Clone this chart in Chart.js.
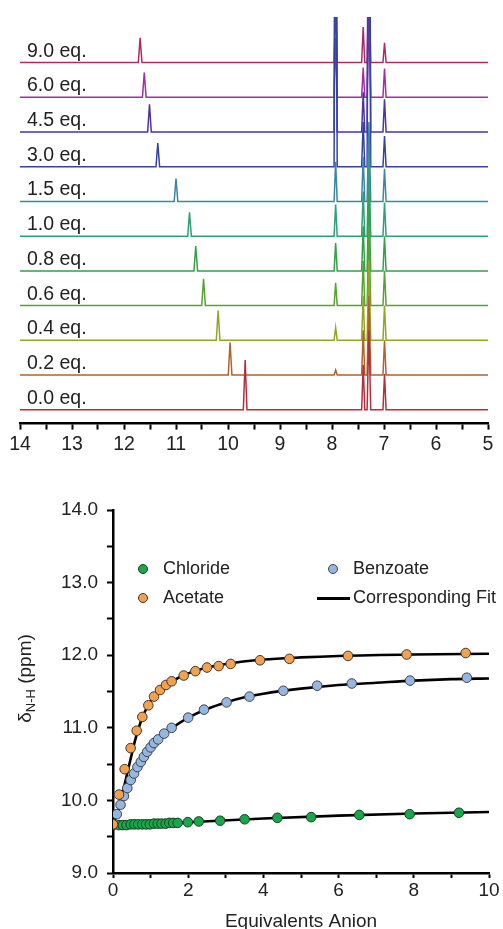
<!DOCTYPE html>
<html>
<head>
<meta charset="utf-8">
<script src="https://cdn.jsdelivr.net/npm/chart.js@4.4.1/dist/chart.umd.min.js"></script>
<style>
    body { margin: 0; background: #fff; }
    #page { position: relative; width: 503px; height: 929px; }
    #spectraBox { position: absolute; left: 0; top: 0; width: 503px; height: 465px; }
    #titrationBox { position: absolute; left: 0; top: 465px; width: 503px; height: 464px; }
    .legend-item { position: absolute; font: 18px 'Liberation Sans', Arial, sans-serif; color: #222; white-space: nowrap; }
    .legend-dot { position: absolute; width: 8px; height: 8px; border-radius: 50%; border: 1px solid #444; }
    .legend-line { position: absolute; width: 33px; height: 3px; background: #000; }
</style>
</head>
<body>
<div id="page">
    <div id="spectraBox"><canvas id="spectraChart"></canvas></div>
    <div id="titrationBox"><canvas id="titrationChart"></canvas><div id="legend"></div></div>
</div>
<script>
// ---- top panel: 1H NMR stack ----
const equivLabels = ['0.0 eq.', '0.2 eq.', '0.4 eq.', '0.6 eq.', '0.8 eq.', '1.0 eq.', '1.5 eq.', '3.0 eq.', '4.5 eq.', '6.0 eq.', '9.0 eq.'];
const nhShift = [9.67, 9.96, 10.19, 10.47, 10.62, 10.74, 11.00, 11.35, 11.51, 11.61, 11.69];
const nhHeight = [50, 33, 30, 27, 25, 24, 23, 24, 28, 25, 25];
const aromaticShifts = [7.93, 7.40, 7.29, 6.99];
const peak793 = [0, 5, 13, 23, 28, 32, 40, 420, 420, 60, 60];
const peak740 = [45, 45, 45, 45, 45, 45, 45, 45, 40, 30, 36];
const peak729 = [80, 80, 80, 80, 80, 80, 80, 420, 420, 80, 80];
const peak699 = [36, 35, 35, 35, 35, 34, 33, 31, 33, 29, 20];
const ppmTicksMin = 5;
const ppmTicksMax = 14;

// ---- bottom panel: titration ----
const chlorideEq = [0, 0.16, 0.26, 0.36, 0.47, 0.57, 0.67, 0.78, 0.88, 0.98, 1.09, 1.19, 1.29, 1.40, 1.50, 1.60, 1.72, 1.99, 2.28, 2.85, 3.50, 4.37, 5.27, 6.55, 7.89, 9.20];
const chlorideShift = [9.66, 9.66, 9.66, 9.66, 9.67, 9.67, 9.67, 9.67, 9.67, 9.67, 9.68, 9.68, 9.68, 9.68, 9.69, 9.69, 9.69, 9.70, 9.71, 9.72, 9.74, 9.76, 9.77, 9.80, 9.81, 9.83];
const acetateEq = [0, 0.16, 0.31, 0.47, 0.63, 0.78, 0.94, 1.09, 1.25, 1.41, 1.56, 1.88, 2.19, 2.50, 2.81, 3.13, 3.91, 4.69, 6.25, 7.81, 9.38];
const acetateShift = [9.67, 10.08, 10.43, 10.72, 10.96, 11.15, 11.31, 11.43, 11.52, 11.59, 11.64, 11.72, 11.78, 11.83, 11.85, 11.88, 11.93, 11.95, 11.99, 12.01, 12.03];
const benzoateEq = [0, 0.10, 0.20, 0.29, 0.38, 0.47, 0.56, 0.65, 0.74, 0.82, 0.91, 1.00, 1.09, 1.20, 1.36, 1.56, 2.00, 2.42, 3.02, 3.63, 4.53, 5.43, 6.35, 7.90, 9.41];
const benzoateShift = [9.67, 9.81, 9.94, 10.06, 10.17, 10.28, 10.37, 10.46, 10.53, 10.60, 10.67, 10.73, 10.79, 10.84, 10.92, 11.00, 11.14, 11.25, 11.35, 11.43, 11.51, 11.58, 11.61, 11.65, 11.69];

// fitted curves
const chlorideFitEq = [0, 2, 4, 6, 8, 10];
const chlorideFit = [9.65, 9.70, 9.75, 9.79, 9.82, 9.84];
const acetateFitEq = [0, 0.1, 0.2, 0.3, 0.4, 0.5, 0.6, 0.75, 0.9, 1.0, 1.25, 1.5, 1.75, 2.0, 2.5, 3.0, 4.0, 5.0, 6.0, 8.0, 10];
const acetateFit = [9.66, 9.82, 9.99, 10.20, 10.42, 10.64, 10.85, 11.10, 11.28, 11.37, 11.52, 11.62, 11.69, 11.75, 11.83, 11.88, 11.94, 11.97, 11.99, 12.01, 12.02];
const benzoateFitEq = [0, 0.1, 0.25, 0.5, 0.75, 1.0, 1.25, 1.5, 2.0, 2.5, 3.0, 3.5, 4.0, 5.0, 6.0, 7.0, 8.0, 9.0, 10];
const benzoateFit = [9.66, 9.80, 10.02, 10.32, 10.54, 10.72, 10.86, 10.97, 11.14, 11.26, 11.35, 11.42, 11.47, 11.54, 11.59, 11.62, 11.65, 11.67, 11.68];

const FONT = "'Liberation Sans', Arial, sans-serif";
const traceColors = ['#b0303e', '#b0642a', '#96a424', '#56a332', '#34a048', '#2f9f7a', '#3a86a6', '#3442a0', '#4f30a6', '#a02ea6', '#a82c6a'];
const STACK_GAP = 35;
const STACK_BASE = 14;

function buildTrace(i) {
    const base = STACK_BASE + i * STACK_GAP;
    const peaks = [
        { x: nhShift[i], h: nhHeight[i], w: 0.035 },
        { x: aromaticShifts[0], h: peak793[i], w: 0.03 },
        { x: aromaticShifts[1], h: peak740[i], w: 0.03 },
        { x: aromaticShifts[2], h: peak729[i], w: 0.035 },
        { x: aromaticShifts[3], h: peak699[i], w: 0.03 }
    ].sort((a, b) => b.x - a.x);
    const pts = [{ x: ppmTicksMax, y: base }];
    peaks.forEach(p => {
        if (p.h <= 0) return;
        pts.push({ x: p.x + p.w, y: base });
        pts.push({ x: p.x, y: base + p.h });
        pts.push({ x: p.x - p.w, y: base });
    });
    pts.push({ x: ppmTicksMin, y: base });
    return pts;
}

const traceLabelPlugin = {
    id: 'traceLabels',
    afterDatasetsDraw(chart) {
        const ctx = chart.ctx;
        const yScale = chart.scales.y;
        ctx.save();
        ctx.font = '19.5px ' + FONT;
        ctx.fillStyle = '#222';
        ctx.textBaseline = 'alphabetic';
        equivLabels.forEach((label, i) => {
            ctx.fillText(label, 27, yScale.getPixelForValue(STACK_BASE + i * STACK_GAP) - 6);
        });
        ctx.restore();
    }
};

new Chart(document.getElementById('spectraChart'), {
    type: 'line',
    data: {
        datasets: equivLabels.map((label, i) => ({
            label: label,
            data: buildTrace(i),
            borderColor: traceColors[i],
            borderWidth: 1.5,
            pointRadius: 0,
            tension: 0
        }))
    },
    options: {
        responsive: true,
        maintainAspectRatio: false,
        animation: false,
        events: [],
        layout: { padding: { left: 20, right: 15, top: 17, bottom: 6 } },
        plugins: { legend: { display: false }, tooltip: { enabled: false } },
        scales: {
            x: {
                type: 'linear',
                reverse: true,
                min: ppmTicksMin,
                max: ppmTicksMax,
                border: { color: '#000', width: 2.5 },
                grid: { drawOnChartArea: false, tickLength: 6, tickWidth: 2, tickColor: '#000' },
                ticks: {
                    stepSize: 0.5,
                    autoSkip: false,
                    maxRotation: 0,
                    padding: 3,
                    color: '#222',
                    font: { family: FONT, size: 19.5 },
                    callback: v => Number.isInteger(v) ? String(v) : ''
                }
            },
            y: { display: false, min: 0, max: 410 }
        }
    },
    plugins: [traceLabelPlugin]
});

// ---- bottom panel ----
const toPoints = (xs, ys) => xs.map((x, i) => ({ x: x, y: ys[i] }));

const yTitlePlugin = {
    id: 'yTitle',
    afterDraw(chart) {
        const ctx = chart.ctx;
        const cy = (chart.chartArea.top + chart.chartArea.bottom) / 2 - 13;
        ctx.save();
        ctx.translate(31, cy);
        ctx.rotate(-Math.PI / 2);
        ctx.fillStyle = '#222';
        ctx.textBaseline = 'alphabetic';
        const big = '19px ' + FONT, small = '13px ' + FONT;
        ctx.font = big;
        const wD = ctx.measureText('\u03B4').width;
        const wRest = ctx.measureText(' (ppm)').width;
        ctx.font = small;
        const wSub = ctx.measureText('N-H').width;
        let x = -(wD + wSub + wRest) / 2;
        ctx.font = big;
        ctx.fillText('\u03B4', x, 0);
        x += wD;
        ctx.font = small;
        ctx.fillText('N-H', x, 4);
        x += wSub;
        ctx.font = big;
        ctx.fillText(' (ppm)', x, 0);
        ctx.restore();
    }
};

const series = [
    { label: 'Acetate', xs: acetateEq, ys: acetateShift, fill: '#f4a04c', edge: '#3a3a3a' },
    { label: 'Benzoate', xs: benzoateEq, ys: benzoateShift, fill: '#94b6e2', edge: '#444' },
    { label: 'Chloride', xs: chlorideEq, ys: chlorideShift, fill: '#16a84a', edge: '#1d3a22' }
];
const fits = [
    { xs: acetateFitEq, ys: acetateFit },
    { xs: benzoateFitEq, ys: benzoateFit },
    { xs: chlorideFitEq, ys: chlorideFit }
];

new Chart(document.getElementById('titrationChart'), {
    type: 'scatter',
    data: {
        datasets: series.map(s => ({
            label: s.label,
            data: toPoints(s.xs, s.ys),
            backgroundColor: s.fill,
            borderColor: s.edge,
            borderWidth: 1,
            pointRadius: 4.8
        })).concat(fits.map(f => ({
            type: 'line',
            label: 'Corresponding Fit',
            data: toPoints(f.xs, f.ys),
            borderColor: '#000',
            borderWidth: 2.6,
            pointRadius: 0,
            cubicInterpolationMode: 'monotone'
        })))
    },
    options: {
        responsive: true,
        maintainAspectRatio: false,
        animation: false,
        events: [],
        layout: { padding: { left: 0, right: 14, top: 45, bottom: 0 } },
        plugins: { legend: { display: false }, tooltip: { enabled: false } },
        scales: {
            x: {
                type: 'linear',
                min: 0,
                max: 10,
                border: { color: '#000', width: 2.5 },
                grid: { drawOnChartArea: false, tickLength: 5, tickWidth: 2, tickColor: '#000' },
                ticks: {
                    stepSize: 1,
                    autoSkip: false,
                    maxRotation: 0,
                    padding: 1,
                    color: '#222',
                    font: { family: FONT, size: 19 },
                    callback: v => v % 2 === 0 ? String(v) : ''
                },
                title: {
                    display: true,
                    text: 'Equivalents Anion',
                    color: '#222',
                    font: { family: FONT, size: 19, lineHeight: 1 },
                    padding: { top: 0, bottom: -2 }
                },
                afterFit: s => { s.height = 56; }
            },
            y: {
                min: 9,
                max: 14,
                border: { color: '#000', width: 2.5 },
                grid: { drawOnChartArea: false, tickLength: 6, tickWidth: 2, tickColor: '#000' },
                ticks: {
                    stepSize: 0.5,
                    autoSkip: false,
                    padding: 9,
                    color: '#222',
                    font: { family: FONT, size: 19 },
                    callback: v => Number.isInteger(v) ? v.toFixed(1) : ''
                },
                afterFit: s => { s.width = 113; }
            }
        }
    },
    plugins: [yTitlePlugin]
});

// legend laid out in two columns like the original
const legendSpots = [
    { label: 'Chloride', left: 143, top: 104 },
    { label: 'Acetate', left: 143, top: 133 },
    { label: 'Benzoate', left: 333, top: 104 },
    { label: 'Corresponding Fit', left: 333, top: 133, line: true }
];
const legend = document.getElementById('legend');
legendSpots.forEach(spot => {
    const s = series.find(d => d.label === spot.label);
    if (spot.line) {
        const ln = document.createElement('div');
        ln.className = 'legend-line';
        ln.style.left = (spot.left - 16) + 'px';
        ln.style.top = (spot.top - 1.5) + 'px';
        legend.appendChild(ln);
    } else {
        const dot = document.createElement('div');
        dot.className = 'legend-dot';
        dot.style.left = (spot.left - 5) + 'px';
        dot.style.top = (spot.top - 5) + 'px';
        dot.style.background = s.fill;
        dot.style.borderColor = s.edge;
        legend.appendChild(dot);
    }
    const txt = document.createElement('div');
    txt.className = 'legend-item';
    txt.textContent = spot.label;
    txt.style.left = (spot.left + 20) + 'px';
    txt.style.top = (spot.top - 11) + 'px';
    legend.appendChild(txt);
});
</script>
</body>
</html>
